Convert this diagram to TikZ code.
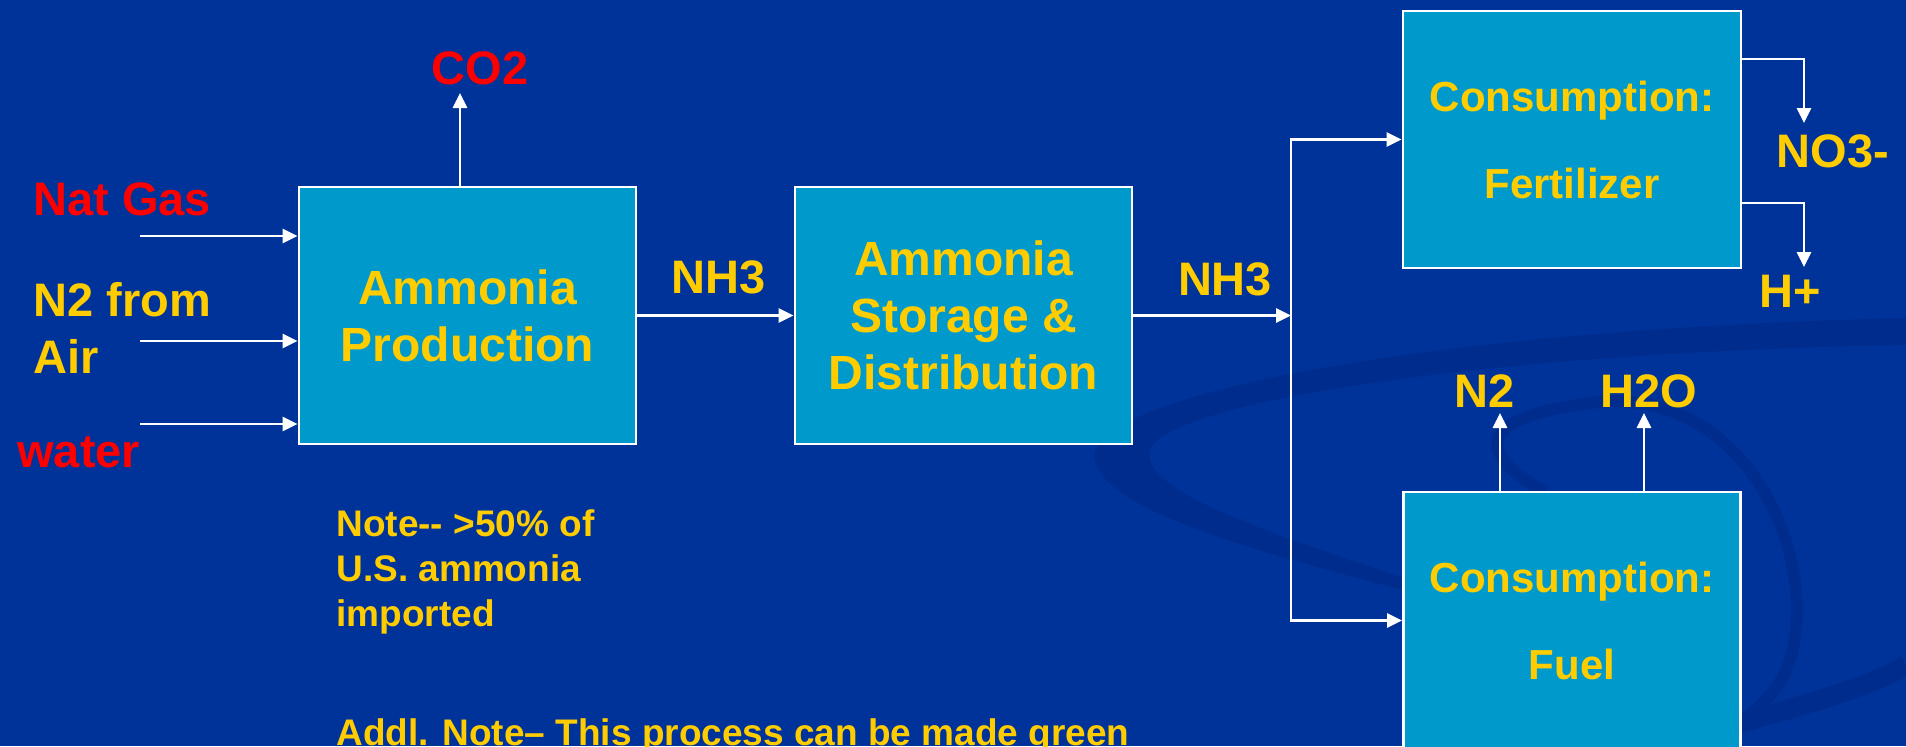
\documentclass[tikz,border=0pt]{standalone}
\usepackage{fontspec}
\setmainfont{Liberation Sans}
\usetikzlibrary{arrows.meta, calc}
\definecolor{slideblue}{RGB}{0,51,153}
\definecolor{swooshblue}{RGB}{0,45,141}
\definecolor{boxblue}{RGB}{0,153,204}
\definecolor{gold}{RGB}{255,204,0}
\definecolor{flame}{RGB}{255,0,0}

\begin{document}
\begin{tikzpicture}[
  x=0.5pt, y=-0.5pt,
  flow/.style={-{Triangle[length=7.5pt,width=7pt]}, draw=white, line width=1.4pt},
  box/.style={rectangle, draw=white, line width=1.4pt, fill=boxblue, text=gold,
    align=center, inner sep=0pt, minimum width=168.5pt, minimum height=128.5pt},
  boxtext/.style={font=\bfseries\fontsize{24}{28.5}\selectfont},
  constext/.style={font=\bfseries\fontsize{21}{43.5}\selectfont},
  label/.style={font=\bfseries\fontsize{23.5}{28.5}\selectfont, inner sep=0pt},
  note/.style={font=\bfseries\fontsize{18.5}{22.5}\selectfont, text=gold,
    inner sep=0pt, align=left}
]
\useasboundingbox (0,0) rectangle (1906,746);
\fill[slideblue] (0,0) rectangle (1906,746);

% background swoosh
\fill[swooshblue] (1906,318) .. controls (1400,330) and (1080,400) .. (1095,460)
  .. controls (1105,510) and (1250,550) .. (1410,592) -- (1410,580)
  .. controls (1260,530) and (1140,490) .. (1150,450)
  .. controls (1170,400) and (1500,352) .. (1906,345) -- cycle;
\draw[swooshblue, line width=6pt] (1545,492) .. controls (1470,450) and (1480,415) .. (1600,402)
  .. controls (1750,390) and (1820,560) .. (1790,660) .. controls (1770,720) and (1700,746) .. (1650,760);
\draw[swooshblue, line width=10pt] (1500,790) .. controls (1700,730) and (1850,700) .. (1906,665);

% process boxes
\node[box, boxtext] (prod) at (467.5,315.5) {Ammonia\\Production};
\node[box, boxtext] (stor) at (963.5,315.5) {Ammonia\\Storage \&\\Distribution};
\node[box, constext, minimum width=169pt] (fert) at (1572,139.5) {Consumption:\\Fertilizer};
\node[box, constext] (fuel) at (1572,620.5) {Consumption:\\Fuel};

% inputs
\node[label, text=flame, anchor=base west] (natgas) at (33,215) {Nat Gas};
\node[label, text=gold, anchor=north west, align=left] (nitro) at (33,282) {N2 from\\Air};
\node[label, text=flame, anchor=base west] (water) at (17,467) {water};
\coordinate (gasin) at (140,236);
\coordinate (airin) at (140,341);
\coordinate (waterin) at (140,424);
\draw[flow] (gasin) -- (gasin -| prod.west);
\draw[flow] (airin) -- (airin -| prod.west);
\draw[flow] (waterin) -- (waterin -| prod.west);

% CO2 out
\node[label, text=flame, anchor=base] (co2) at (480,84) {CO2};
\coordinate (co2tip) at (460,93);
\draw[flow] (co2tip |- prod.north) -- (co2tip);

% NH3 flows
\node[label, text=gold, anchor=base] (nh3a) at (719,293) {NH3};
\node[label, text=gold, anchor=base] (nh3b) at (1225,295) {NH3};
\coordinate (split) at (1291,315.5);
\draw[flow] (prod) -- (stor);
\draw[flow] (stor) -- (split);
\draw[flow] (split) |- (fert);
\draw[flow] (split) |- (fuel);

% fertilizer products
\node[label, text=gold, anchor=base] (no3) at (1833,167) {NO3-};
\node[label, text=gold, anchor=base] (hplus) at (1790,307) {H+};
\coordinate (no3tip) at (1804,123);
\coordinate (hplustip) at (1804,267);
\draw[flow] ($(fert.east)+(0,-80.5)$) -| (no3tip);
\draw[flow] ($(fert.east)+(0,63.5)$) -| (hplustip);

% fuel products
\node[label, text=gold, anchor=base] (n2out) at (1485,407) {N2};
\node[label, text=gold, anchor=base] (h2o) at (1649,407) {H2O};
\coordinate (n2tip) at (1500,413);
\coordinate (h2otip) at (1644,413);
\draw[flow] (n2tip |- fuel.north) -- (n2tip);
\draw[flow] (h2otip |- fuel.north) -- (h2otip);

% notes
\node[note, anchor=north west] (note) at (336,509) {Note-{}- >50\% of\\U.S. ammonia\\imported};
\node[note, anchor=base west] (addl) at (336,745) {Addl. Note-- This process can be made green};
\end{tikzpicture}
\end{document}
